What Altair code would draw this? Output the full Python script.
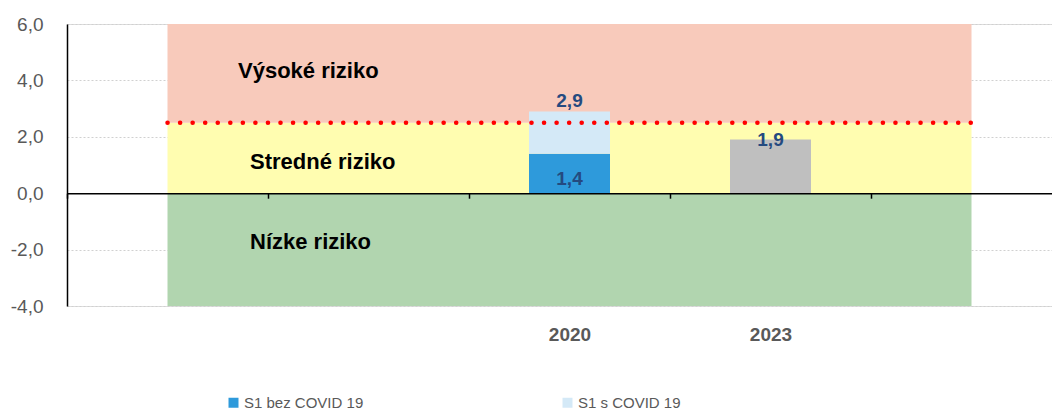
import altair as alt
import pandas as pd

# ---------------- data ----------------
categories = ["k1", "k2", "2020", "2023", "k5"]
tick_labels = ["", "", "2020", "2023", ""]

zone_names = ["Nízke riziko", "Stredné riziko", "Výsoké riziko"]
zone_low = [-4.0, 0.0, 2.5]
zone_high = [0.0, 2.5, 6.0]
zone_label_y = [-1.73, 1.1, 4.33]

threshold = 2.5

series_names = ["S1 bez COVID 19", "S1 s COVID 19"]
s1_bez_2020 = 1.4
s1_s_2020 = 2.9
s1_2023 = 1.9

y_ticks = [-4, -2, 0, 2, 4, 6]

# ---------------- styles ----------------
FONT = "Liberation Sans"
zone_colors = ["#B1D5AF", "#FFFDB0", "#F8CABB"]
bar_colors = ["#2E9ADB", "#D4E9F7"]
gray_bar = "#BFBFBF"
label_blue = "#244A80"
PLOT_W = 985

def fmt(v):
    return f"{v:.1f}".replace(".", ",")

label_map = "{" + ",".join(f"'{c}':'{l}'" for c, l in zip(categories, tick_labels)) + "}"

xscale = alt.Scale(domain=categories, range=[0, 1005], paddingInner=0, paddingOuter=0)
xaxis = alt.Axis(
    title=None, labelExpr=f"{label_map}[datum.value]", labelAngle=0,
    offset=-112.8, tickBand="extent", domainColor="black", domainWidth=1.5,
    tickColor="black", tickSize=5, tickWidth=1.5, labelFont=FONT,
    labelFontSize=19, labelFontWeight="bold", labelColor="#595959",
    labelPadding=127, grid=False, zindex=1,
)
yscale = alt.Scale(domain=[-4, 6], nice=False, zero=False)
yaxis = alt.Axis(
    title=None, values=y_ticks,
    labelExpr="(datum.value < 0 ? '-' : '') + replace(format(abs(datum.value), '.1f'), '.', ',')",
    ticks=False, labelPadding=24, labelFont=FONT, labelFontSize=19,
    labelColor="#595959", domainColor="black", domainWidth=1.5,
    gridColor="#D0D0D0", gridDash=[2, 2], gridWidth=1, zindex=0,
)

def X():
    return alt.X("cat:N", scale=xscale, axis=xaxis, sort=categories)

layers = []

# risk zones
for name, lo, hi, col in zip(zone_names, zone_low, zone_high, zone_colors):
    zdf = pd.DataFrame({"cat": categories, "lo": [lo] * len(categories), "hi": [hi] * len(categories)})
    layers.append(
        alt.Chart(zdf).mark_area(color=col, opacity=1).encode(
            x=X(), y=alt.Y("lo:Q", scale=yscale, axis=yaxis), y2="hi:Q"
        )
    )

# stacked bars 2020
bar_df = pd.DataFrame({
    "cat": ["2020", "2020"],
    "series": series_names,
    "y0": [0.0, s1_bez_2020],
    "y1": [s1_bez_2020, s1_s_2020],
})
layers.append(
    alt.Chart(bar_df).mark_bar(size=81).encode(
        x=X(), y=alt.Y("y1:Q", scale=yscale, axis=yaxis), y2="y0:Q",
        color=alt.Color(
            "series:N",
            scale=alt.Scale(domain=series_names, range=bar_colors),
            legend=alt.Legend(
                title=None, orient="none", legendX=159, legendY=371,
                direction="horizontal", symbolType="square", symbolSize=100,
                symbolStrokeWidth=0, labelFont=FONT, labelFontSize=15,
                labelColor="#595959", labelOffset=3, columnPadding=196,
                labelLimit=0,
            ),
        ),
    )
)

# 2023 bar
g_df = pd.DataFrame({"cat": ["2023"], "v": [s1_2023]})
layers.append(
    alt.Chart(g_df).mark_bar(size=81, color=gray_bar).encode(
        x=X(), y=alt.Y("v:Q", scale=yscale, axis=yaxis)
    )
)

# threshold dotted line
t_df = pd.DataFrame({"cat": categories, "v": [threshold] * len(categories)})
layers.append(
    alt.Chart(t_df).mark_line(color="#FF0000", strokeWidth=4.5, strokeDash=[0.1, 12.45], strokeCap="round").encode(
        x=X(), y=alt.Y("v:Q", scale=yscale, axis=yaxis)
    )
)

# zone labels
zl_df = pd.DataFrame({"cat": ["k1"] * 3, "y": zone_label_y, "t": zone_names})
layers.append(
    alt.Chart(zl_df[zl_df.t == zone_names[2]]).mark_text(
        align="left", baseline="middle", font=FONT, fontSize=22, fontWeight="bold", color="black", dx=70.5
    ).encode(x=X(), y=alt.Y("y:Q", scale=yscale, axis=yaxis), text="t:N")
)
layers.append(
    alt.Chart(zl_df[zl_df.t != zone_names[2]]).mark_text(
        align="left", baseline="middle", font=FONT, fontSize=22, fontWeight="bold", color="black", dx=82.5
    ).encode(x=X(), y=alt.Y("y:Q", scale=yscale, axis=yaxis), text="t:N")
)

# value labels
lbl_total = pd.DataFrame({"cat": ["2020"], "y": [s1_s_2020], "t": [fmt(s1_s_2020)]})
lbl_base = pd.DataFrame({"cat": ["2020"], "y": [0.0], "t": [fmt(s1_bez_2020)]})
lbl_2023 = pd.DataFrame({"cat": ["2023"], "y": [s1_2023], "t": [fmt(s1_2023)]})
for df, base, dy in [(lbl_total, "alphabetic", -4), (lbl_base, "alphabetic", -8), (lbl_2023, "middle", 0)]:
    layers.append(
        alt.Chart(df).mark_text(
            baseline=base, dy=dy, font=FONT, fontSize=19, fontWeight="bold", color=label_blue
        ).encode(x=X(), y=alt.Y("y:Q", scale=yscale, axis=yaxis), text="t:N")
    )

chart = alt.layer(*layers).properties(
    width=PLOT_W, height=282,
    padding={"left": 59, "top": 16, "right": 0, "bottom": 104},
    autosize=alt.AutoSizeParams(type="none"),
).configure_view(stroke=None).configure(background="white")

chart.save("out.html", embed_options={"renderer": "svg", "actions": False})
